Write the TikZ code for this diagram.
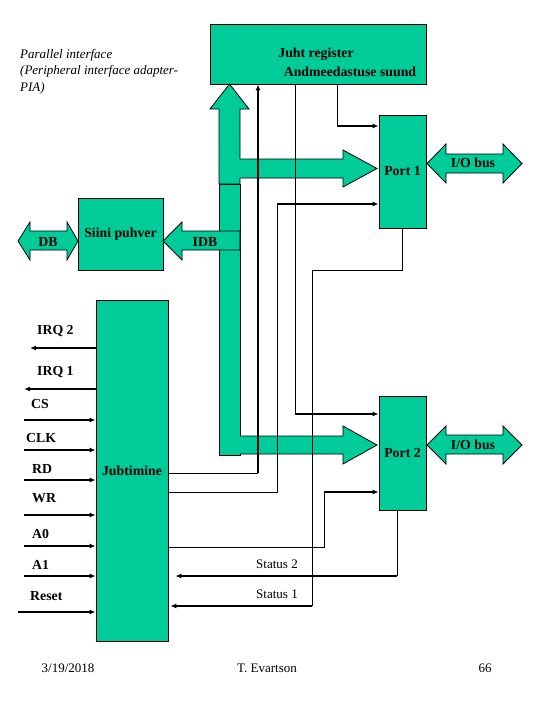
\documentclass[tikz,border=0pt]{standalone}
\usepackage{fontspec}
\setmainfont{Liberation Serif}
\usetikzlibrary{arrows.meta}
\definecolor{busgreen}{RGB}{0,204,153}
\begin{document}
\begin{tikzpicture}[x=1pt,y=-1pt,
  box/.style={draw, fill=busgreen, inner sep=0pt, line width=0.8pt, font=\fontsize{13.8}{15}\selectfont\bfseries},
  bus/.style={fill=busgreen, draw, line width=0.8pt},
  sig/.style={line width=0.9pt},
  sigthick/.style={line width=1.8pt, -{Latex[length=6pt,width=5pt]}},
  lbl/.style={font=\fontsize{13.8}{15}\selectfont\bfseries, inner sep=0pt},
  txt/.style={font=\fontsize{13}{15}\selectfont, inner sep=0pt}]
\useasboundingbox (0,0) rectangle (540,720);
\node[box, minimum width=216pt, minimum height=60pt] (reg) at (318,54) {};
\node[box, minimum width=47pt, minimum height=113pt] (p1) at (402.5,171.5) {Port 1};
\node[box, minimum width=47pt, minimum height=114pt] (p2) at (402.5,453) {Port 2};
\node[box, minimum width=85pt, minimum height=72pt] (sp) at (120.5,234) {Siini puhver};
\node[box, minimum width=72pt, minimum height=341pt] (jt) at (132,470.5) {Jubtimine};
\node[lbl] at (316,54) {Juht register};
\node[lbl] at (350,72) {Andmeedastuse suund};
\node[txt, anchor=west, align=left, font=\fontsize{13}{16.5}\selectfont\itshape] at (20,71.5)
  {Parallel interface\\(Peripheral interface adapter-\\PIA)};
% buses
\filldraw[bus] (219,184) -- (219,109) -- (210,109) -- (229.5,84) -- (249,109) -- (240,109) -- (240,184) -- cycle;
\filldraw[bus] (219,184) rectangle (240,455);
\fill[busgreen] (239,159) -- (343,159) -- (343,150) -- (377,168.5) -- (343,187) -- (343,178) -- (239,178) -- cycle;
\draw[line width=0.8pt] (240,159) -- (343,159) -- (343,150) -- (377,168.5) -- (343,187) -- (343,178) -- (240,178);
\fill[busgreen] (239,436) -- (343,436) -- (343,426) -- (377,445) -- (343,464) -- (343,454) -- (239,454) -- cycle;
\draw[line width=0.8pt] (240,436) -- (343,436) -- (343,426) -- (377,445) -- (343,464) -- (343,454) -- (240,454);
\filldraw[bus] (240,231) -- (182,231) -- (182,222) -- (163,241) -- (182,260) -- (182,250) -- (240,250) -- cycle;
\filldraw[bus] (18,241) -- (30,222) -- (30,231) -- (67,231) -- (67,222) -- (78,241) -- (67,260) -- (67,250) -- (30,250) -- (30,260) -- cycle;
\filldraw[bus] (427,163.5) -- (446,144) -- (446,154) -- (503,154) -- (503,144) -- (522,163.5) -- (503,183) -- (503,173) -- (446,173) -- (446,183) -- cycle;
\filldraw[bus] (427,445) -- (446,426) -- (446,435) -- (503,435) -- (503,426) -- (522,445) -- (503,464) -- (503,454) -- (446,454) -- (446,464) -- cycle;
\node[lbl] at (205,242) {IDB};
\node[lbl] at (48,242) {DB};
\node[lbl] at (473,163) {I/O bus};
\node[lbl] at (473,445) {I/O bus};
% control lines
\coordinate (k0) at (258,473);
\draw[sig] (jt.east |- k0) -- (k0);
\draw[sigthick] (k0) -- (reg.south -| k0);
\coordinate (k1) at (337,126);
\draw[sig] (reg.south -| k1) -- (k1);
\draw[sigthick] (k1) -- (p1.west |- k1);
\coordinate (k2) at (277,204);
\draw[sig] (jt.east |- 0,492) -| (k2);
\draw[sigthick] (k2) -- (p1.west |- k2);
\coordinate (k3) at (295,414);
\draw[sig] (reg.south -| k3) -- (k3);
\draw[sigthick] (k3) -- (p2.west |- k3);
\coordinate (k4) at (324,492);
\draw[sig] (jt.east |- 0,547) -| (k4);
\draw[sigthick] (k4) -- (p2.west |- k4);
\coordinate (k5) at (312,606);
\draw[sig] (p1.south) |- (312,270) -- (k5);
\draw[sigthick] (k5) -- ([xshift=2pt]jt.east |- k5);
\coordinate (k6) at (397,576);
\draw[sig] (p2.south -| k6) -- (k6);
\draw[sigthick] (k6) -- ([xshift=7pt]jt.east |- k6);
\node[txt] at (277,564) {Status 2};
\node[txt] at (277,594) {Status 1};
% left signals
\coordinate (irq2) at (30,348);
\coordinate (irq1) at (24,389);
\coordinate (cs) at (24,420);
\coordinate (clk) at (24,450);
\coordinate (rd) at (24,480);
\coordinate (wr) at (24,515);
\coordinate (a0) at (24,546);
\coordinate (a1) at (24,576);
\coordinate (reset) at (18,612);
\draw[sigthick] (jt.west |- irq2) -- (irq2);
\draw[sigthick] (jt.west |- irq1) -- (irq1);
\draw[sigthick] (cs) -- (jt.west |- cs);
\draw[sigthick] (clk) -- (jt.west |- clk);
\draw[sigthick] (rd) -- (jt.west |- rd);
\draw[sigthick] (wr) -- (jt.west |- wr);
\draw[sigthick] (a0) -- (jt.west |- a0);
\draw[sigthick] (a1) -- (jt.west |- a1);
\draw[sigthick] (reset) -- (jt.west |- reset);
\node[lbl, anchor=west] at (37,331) {IRQ 2};
\node[lbl, anchor=west] at (37,372) {IRQ 1};
\node[lbl, anchor=west] at (31,404) {CS};
\node[lbl, anchor=west] at (26,438) {CLK};
\node[lbl, anchor=west] at (32,469) {RD};
\node[lbl, anchor=west] at (32,498) {WR};
\node[lbl, anchor=west] at (32,534) {A0};
\node[lbl, anchor=west] at (32,565) {A1};
\node[lbl, anchor=west] at (30,596) {Reset};
% footer
\node[txt] at (68,668) {3/19/2018};
\node[txt] at (267,668) {T. Evartson};
\node[txt] at (485,668) {66};
\end{tikzpicture}
\end{document}
